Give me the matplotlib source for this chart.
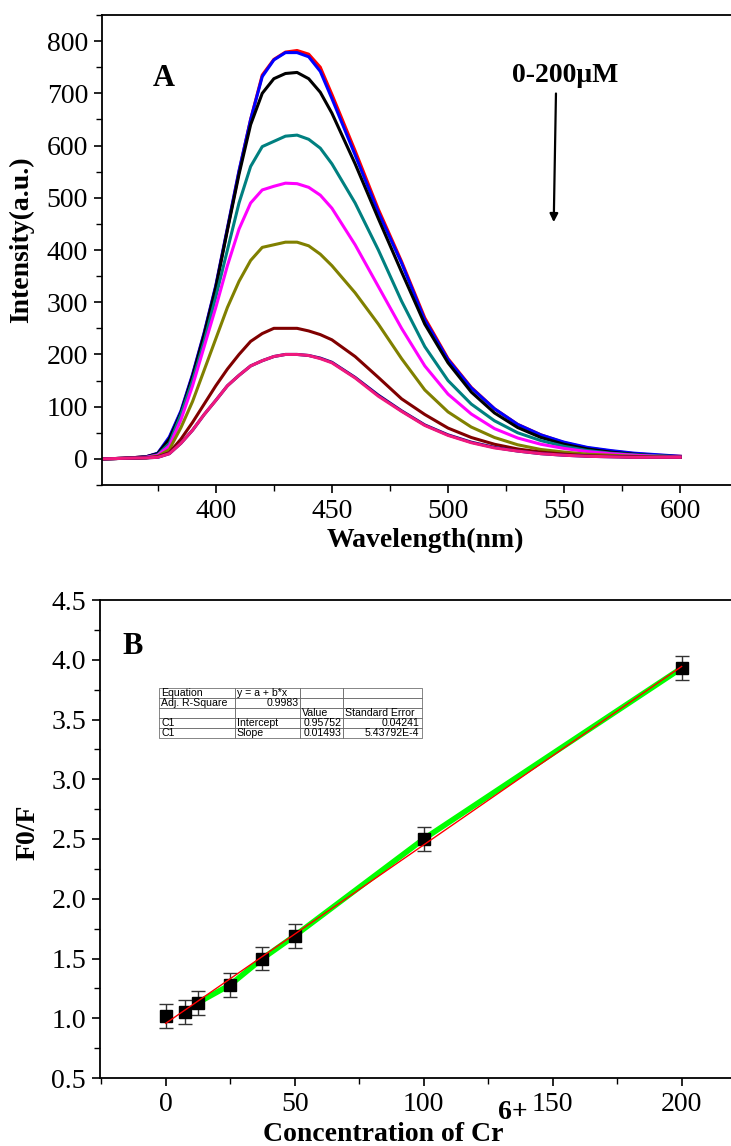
import numpy as np
import matplotlib
matplotlib.use('Agg')
from matplotlib import pyplot as plt
from matplotlib.ticker import MultipleLocator, FormatStrFormatter

plt.rcParams['font.family'] = ['Liberation Serif', 'DejaVu Serif']

# ---- panel A: emission spectra ----
wl = [350, 360, 370, 375, 380, 385, 390, 395, 400, 405, 410, 415, 420, 425, 430, 435,
      440, 445, 450, 460, 470, 480, 490, 500, 510, 520, 530, 540, 550, 560, 570, 580, 590, 600]

i_red     = [0, 1, 4, 10, 40, 90, 160, 240, 330, 440, 550, 650, 735, 765, 779, 782,
             775, 750, 698, 590, 478, 378, 270, 192, 137, 96, 66, 46, 31, 21, 15, 10, 7, 5]
i_blue    = [0, 1, 4, 11, 42, 92, 162, 242, 332, 442, 552, 650, 732, 764, 778, 778,
             770, 742, 690, 582, 472, 375, 266, 190, 136, 96, 66, 46, 32, 22, 16, 11, 8, 5]
i_black   = [0, 1, 4, 10, 38, 88, 158, 238, 328, 438, 545, 640, 700, 728, 738, 740,
             728, 702, 662, 565, 460, 358, 258, 184, 128, 88, 60, 41, 28, 19, 13, 9, 6, 4]
i_teal    = [0, 1, 3, 8, 30, 85, 150, 225, 310, 400, 490, 560, 598, 608, 618, 620,
             612, 595, 565, 490, 400, 302, 215, 150, 105, 73, 50, 35, 24, 16, 11, 8, 6, 4]
i_magenta = [0, 1, 3, 7, 25, 75, 140, 215, 290, 370, 440, 490, 515, 522, 528, 527,
             520, 505, 480, 410, 330, 250, 178, 124, 86, 58, 40, 28, 20, 14, 10, 7, 5, 4]
i_olive   = [0, 1, 2, 5, 18, 60, 110, 170, 230, 290, 340, 380, 405, 410, 415, 415,
             408, 392, 370, 318, 258, 192, 132, 90, 61, 41, 27, 18, 13, 9, 7, 5, 4, 3]
i_maroon  = [0, 1, 2, 4, 12, 38, 70, 105, 140, 172, 200, 225, 240, 250, 250, 250,
             245, 238, 228, 196, 156, 115, 85, 59, 41, 28, 19, 13, 9, 6, 5, 4, 3, 3]
i_navy    = [0, 1, 2, 3, 10, 30, 55, 85, 112, 140, 160, 178, 188, 196, 200, 200,
             198, 193, 185, 156, 122, 92, 65, 46, 32, 22, 15, 10, 7, 5, 4, 3, 3, 3]
i_pink    = [0, 1, 2, 3, 10, 30, 55, 85, 112, 140, 160, 178, 188, 196, 200, 200,
             198, 192, 184, 155, 120, 91, 64, 45, 31, 21, 15, 10, 7, 5, 4, 3, 3, 3]

spectra = [i_red, i_blue, i_black, i_teal, i_magenta, i_olive, i_maroon, i_navy, i_pink]
colors = ['#ff0000', '#0000ff', '#000000', '#008080', '#ff00ff', '#808000',
          '#800000', '#000080', '#f0197d']

# ---- panel B: Stern-Volmer data ----
conc = [0, 7.5, 12.5, 25, 37.5, 50, 100, 200]
f0f = [1.02, 1.05, 1.13, 1.28, 1.50, 1.69, 2.50, 3.93]
err = [0.1, 0.1, 0.1, 0.1, 0.1, 0.1, 0.1, 0.1]
a_fit, b_fit = 0.95752, 0.01493

table_rows = [
    ['Equation', 'y = a + b*x', '', ''],
    ['Adj. R-Square', '0.9983', '', ''],
    ['', '', 'Value', 'Standard Error'],
    ['C1', 'Intercept', '0.95752', '0.04241'],
    ['C1', 'Slope', '0.01493', '5.43792E-4'],
]

W, H = 731, 1146
fig = plt.figure(figsize=(W / 100, H / 100), dpi=100)


def style_axes(ax):
    ax.spines['right'].set_visible(False)
    ax.tick_params(which='both', direction='out', top=False, right=False)
    ax.tick_params(which='major', length=6, width=1.2, labelsize=20, pad=4)
    ax.tick_params(which='minor', length=4, width=1.0)
    for s in ax.spines.values():
        s.set_linewidth(1.3)


# ================= A =================
axA = fig.add_axes([102 / W, 1 - 485 / H, (W - 102) / W + 0.01, (485 - 15) / H])
for y, c in zip(spectra, colors):
    axA.plot(wl, y, color=c, lw=2.2)
axA.set_xlim(351, 625)
axA.set_ylim(-50, 850)
axA.xaxis.set_major_locator(MultipleLocator(50))
axA.xaxis.set_minor_locator(MultipleLocator(25))
axA.yaxis.set_major_locator(MultipleLocator(100))
axA.yaxis.set_minor_locator(MultipleLocator(50))
style_axes(axA)
fig.text(425 / W, 1 - 547 / H, 'Wavelength(nm)', ha='center', va='baseline',
         fontsize=20, fontweight='bold')
fig.text(22 / W, 1 - 240 / H, 'Intensity(a.u.)', ha='center', va='center',
         rotation=90, fontsize=20, fontweight='bold')
fig.text(153 / W, 1 - 86 / H, 'A', fontsize=22, fontweight='bold')
fig.text(512 / W, 1 - 82 / H, '0-200\u03bcM', fontsize=20, fontweight='bold')
axA.annotate('', xy=(545.5, 448), xytext=(546.5, 705),
             arrowprops=dict(arrowstyle='-|>', color='black', lw=1.6, mutation_scale=12))

# ================= B =================
axB = fig.add_axes([100 / W, 1 - 1078 / H, (W - 100) / W + 0.01, (1078 - 600) / H])
axB.plot(conc[2:], f0f[2:], color='#00ff00', lw=4, zorder=2)
xs = np.array([conc[0], conc[-1]])
axB.plot(xs, a_fit + b_fit * xs, color='#ff0000', lw=1, zorder=4)
axB.errorbar(conc, f0f, yerr=err, fmt='s', color='black', ms=9, capsize=5,
             elinewidth=1, capthick=1, ecolor='#333333', zorder=3)
axB.set_xlim(-25.5, 222)
axB.set_ylim(0.5, 4.5)
axB.xaxis.set_major_locator(MultipleLocator(50))
axB.xaxis.set_minor_locator(MultipleLocator(25))
axB.yaxis.set_major_locator(MultipleLocator(0.5))
axB.yaxis.set_minor_locator(MultipleLocator(0.25))
axB.yaxis.set_major_formatter(FormatStrFormatter('%.1f'))
style_axes(axB)
fig.text(263 / W, 1 - 1141 / H, 'Concentration of Cr', ha='left', va='baseline',
         fontsize=20, fontweight='bold')
fig.text(498 / W, 1 - 1119 / H, '6+', ha='left', va='baseline',
         fontsize=20, fontweight='bold')
fig.text(28 / W, 1 - 832 / H, 'F0/F', ha='center', va='center',
         rotation=90, fontsize=20, fontweight='bold')
fig.text(122 / W, 1 - 654 / H, 'B', fontsize=22, fontweight='bold')

tbl = axB.table(cellText=table_rows, colWidths=[75, 65, 42, 78],
                bbox=[0.092, 0.711, 0.412, 0.105], zorder=5)
tbl.auto_set_font_size(False)
right_cells = {(1, 1), (3, 2), (3, 3), (4, 2), (4, 3)}
for (r, c), cell in tbl.get_celld().items():
    cell.set_linewidth(0.5)
    cell.set_edgecolor('#555555')
    cell.get_text().set_fontsize(7.6)
    cell.get_text().set_fontfamily('Liberation Sans')
    cell.set_text_props(ha='right' if (r, c) in right_cells else 'left')
    cell.PAD = 0.03

fig.savefig('out.png', dpi=100)
